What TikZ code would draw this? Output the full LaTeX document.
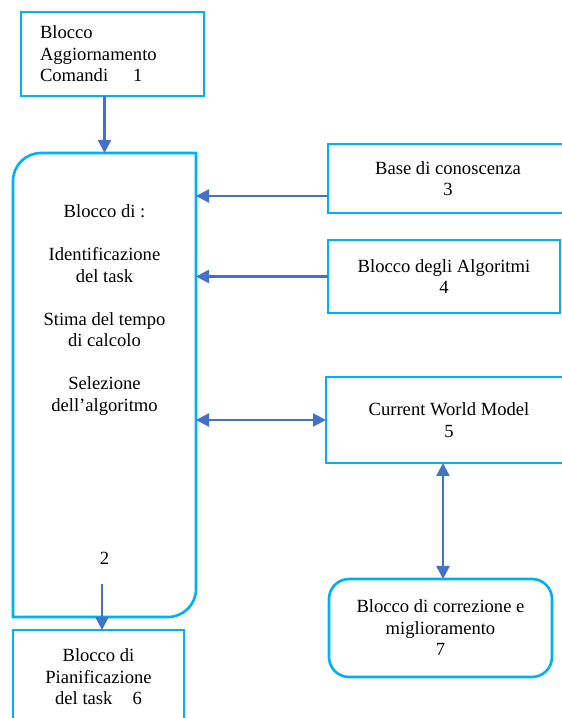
\documentclass[tikz,border=0pt]{standalone}
\usepackage{fontspec}
\setmainfont{Liberation Serif}
\usetikzlibrary{positioning,arrows.meta}
\definecolor{boxcyan}{RGB}{0,176,240}
\definecolor{arrowblue}{RGB}{68,114,196}

\begin{document}
\begin{tikzpicture}[
	x=1pt, y=1pt,
	>={Triangle[length=13pt,width=13pt]},
	every node/.style={font=\fontsize{18.6}{21.5}\selectfont, outer sep=0pt},
	box/.style={rectangle, draw=boxcyan, line width=2.6pt, align=center},
	rbox/.style={box, rounded corners=20pt},
	conn/.style={->, draw=arrowblue, line width=2.4pt},
	biconn/.style={<->, draw=arrowblue, line width=2.4pt}
	]
	\clip (0,0) rectangle (562,718);
	
	\node[box, minimum width=183pt, minimum height=84pt, text width=145pt, align=left] (cmd) at (112.5,664) {Blocco\\Aggiornamento\\Comandi\hspace{25pt}1};
	
	\node[minimum width=183pt, minimum height=464pt, align=center] (blk) at (104.5,333) {Blocco di :\\[21.5pt]Identificazione\\del task\\[21.5pt]Stima del tempo\\di calcolo\\[21.5pt]Selezione\\dell’algoritmo\\[132pt]2};
	\draw[draw=boxcyan, line width=2.6pt] ([yshift=-28pt]blk.north west) arc[start angle=180, end angle=90, radius=28pt] -- (blk.north east) -- ([yshift=28pt]blk.south east) arc[start angle=0, end angle=-90, radius=28pt] -- (blk.south west) -- cycle;
	
	\node[box, minimum width=171pt, minimum height=94pt, below right=13pt and 0pt of blk.south west] (plan) {Blocco di\\Pianificazione\\del task\hspace{20pt}6};
	
	\node[box, minimum width=240pt, minimum height=69pt] (kb) at (448,539.5) {Base di conoscenza\\3};
	\node[box, minimum width=232pt, minimum height=73pt, below right=27pt and 0pt of kb.south west] (alg) {Blocco degli Algoritmi\\4};
	\node[box, minimum width=246pt, minimum height=86pt] (wm) at (449,298) {Current World Model\\5};
	\node[rbox, minimum width=223pt, minimum height=98pt] (corr) at (440.5,90) {Blocco di correzione e\\miglioramento\\7};
	
	\coordinate (kbout) at ([yshift=-17.5pt]kb.west);
	\coordinate (planin) at ([xshift=3.5pt]plan.north);
	\coordinate (blkout) at ([xshift=-2.5pt,yshift=33pt]blk.south);
	\coordinate (corrin) at ([xshift=2.5pt]corr.north);
	
	\draw[conn] (cmd.south -| blk.north) -- (blk.north);
	\draw[conn] (kbout) -- (kbout -| blk.east);
	\draw[conn] (alg.west) -- (alg.west -| blk.east);
	\draw[biconn] (wm.west) -- (wm.west -| blk.east);
	\draw[biconn] (corrin) -- (corrin |- wm.south);
	\draw[conn] (blkout) -- (planin);
\end{tikzpicture}
\end{document}
